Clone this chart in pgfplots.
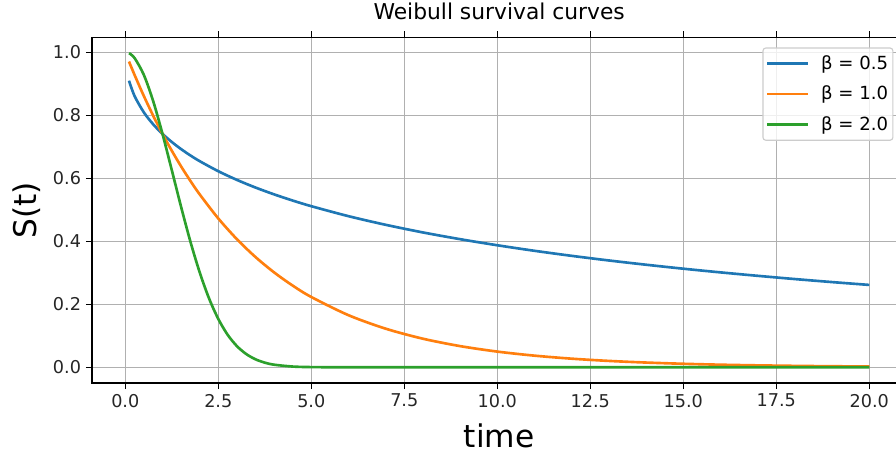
\documentclass[border=0pt]{standalone}
\usepackage{fontspec}
\setmainfont{DejaVu Sans}
\usepackage{pgfplots}
\pgfplotsset{compat=1.18}
\definecolor{tabblue}{HTML}{1F77B4}
\definecolor{taborange}{HTML}{FF7F0E}
\definecolor{tabgreen}{HTML}{2CA02C}
\definecolor{gridgray}{HTML}{B0B0B0}
\definecolor{legedge}{HTML}{CCCCCC}
\begin{document}
\begin{tikzpicture}
\begin{axis}[
  scale only axis,
  width=586.3pt, height=248.8pt,
  xmin=-0.895, xmax=20.995,
  ymin=-0.0499, ymax=1.0469,
  xtick={0,2.5,5,7.5,10,12.5,15,17.5,20},
  ytick={0,0.2,0.4,0.6,0.8,1.0},
  /pgf/number format/assume math mode=true,
  xticklabel style={/pgf/number format/fixed,/pgf/number format/fixed zerofill,/pgf/number format/precision=1},
  yticklabel style={/pgf/number format/fixed,/pgf/number format/fixed zerofill,/pgf/number format/precision=1},
  scaled ticks=false,
  tick label style={font=\fontsize{12.7}{15}\selectfont, text=black!85},
  tick align=outside,
  major tick length=4.4pt,
  tick style={black, line width=1pt},
  axis line style={black, line width=1pt},
  grid=major,
  major grid style={gridgray, line width=1pt},
  title={Weibull survival curves},
  title style={at={(0.5,1.029)}, anchor=base, font=\fontsize{15.7}{18}\selectfont},
  xlabel={time},
  xlabel style={at={(axis description cs:0.5,-0.1855)}, anchor=base, font=\fontsize{22.5}{26}\selectfont},
  ylabel={S(t)},
  ylabel style={at={(axis description cs:-0.0798,0.5)}, anchor=center, font=\fontsize{22.5}{26}\selectfont},
  legend cell align=left,
  legend image code/.code={\draw[#1, line width=1.9pt, rounded corners=0pt] (0pt,0pt) -- (29.5pt,0pt);},
  legend style={at={(0.8233,0.971)}, anchor=north west,
    draw=legedge, line width=0.8pt, rounded corners=2pt, fill=white, fill opacity=0.8, text opacity=1,
    font=\fontsize{13}{15}\selectfont, row sep=7.5pt, inner xsep=2pt, inner ysep=4pt,
    nodes={inner sep=1.5pt},
    /tikz/every odd column/.append style={column sep=7pt}},
  every axis plot/.append style={line width=1.9pt, smooth},
]
\coordinate (bl) at (rel axis cs:0,0);
\addplot[tabblue] coordinates {
(0.1,0.9095)(0.25,0.8607)(0.5,0.8089)(0.75,0.7712)(1,0.7408)(1.25,0.7151)(1.5,0.6925)(1.75,0.6724)(2,0.6542)(2.5,0.6223)(3,0.5948)(3.5,0.5705)(4,0.5488)(4.5,0.5292)(5,0.5113)(6,0.4796)(7,0.4522)(8,0.4280)(9,0.4066)(10,0.3873)(11,0.3697)(12,0.3537)(13,0.3390)(14,0.3255)(15,0.3129)(16,0.3012)(17,0.2903)(18,0.2800)(19,0.2704)(20,0.2614)
};
\addlegendentry{β = 0.5}
\addplot[taborange] coordinates {
(0.1,0.9704)(0.25,0.9277)(0.5,0.8607)(0.75,0.7985)(1,0.7408)(1.25,0.6873)(1.5,0.6376)(1.75,0.5916)(2,0.5488)(2.5,0.4724)(3,0.4066)(3.5,0.3499)(4,0.3012)(4.5,0.2592)(5,0.2231)(6,0.1653)(7,0.1225)(8,0.0907)(9,0.0672)(10,0.0498)(11,0.0369)(12,0.0273)(13,0.0202)(14,0.0150)(15,0.0111)(16,0.0082)(17,0.0061)(18,0.0045)(19,0.0033)(20,0.0025)
};
\addlegendentry{β = 1.0}
\addplot[tabgreen] coordinates {
(0.1,0.9970)(0.25,0.9814)(0.5,0.9277)(0.75,0.8447)(1,0.7408)(1.25,0.6258)(1.5,0.5092)(1.75,0.3990)(2,0.3012)(2.25,0.2190)(2.5,0.1534)(2.75,0.1034)(3,0.0672)(3.25,0.0421)(3.5,0.0253)(3.75,0.0147)(4,0.0082)(4.5,0.0023)(5,0.0006)(6,0.0000)(8,0)(12,0)(16,0)(20,0)
};
\addlegendentry{β = 2.0}
\end{axis}
\pgfresetboundingbox
\path (bl) ++(-66.24pt,-51.12pt) rectangle ++(645.12pt,326.88pt);
\end{tikzpicture}
\end{document}
